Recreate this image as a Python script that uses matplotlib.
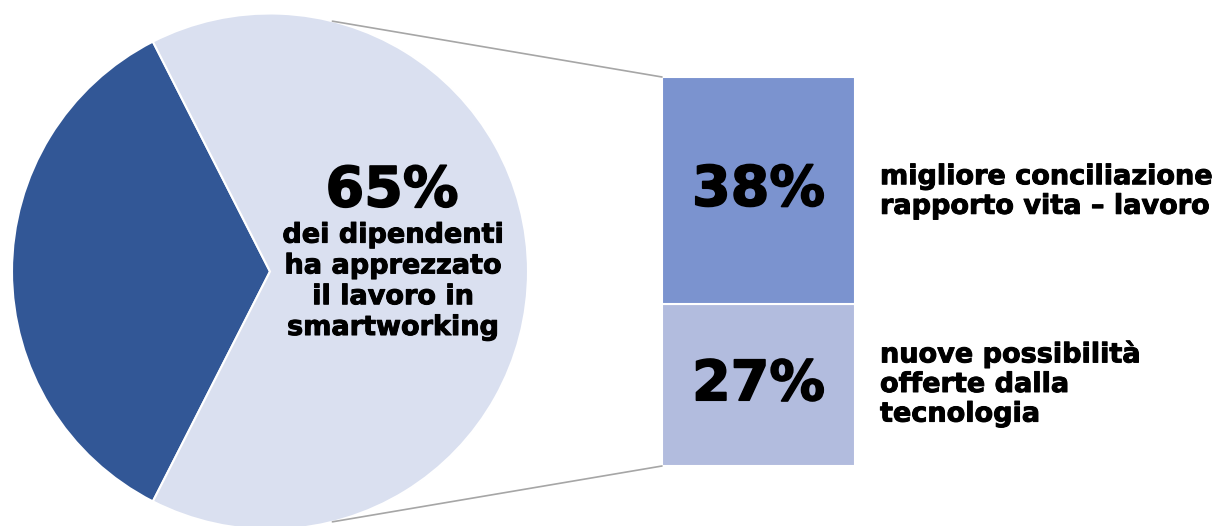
import matplotlib
matplotlib.use("Agg")
import matplotlib.pyplot as plt
from matplotlib.patches import ConnectionPatch
import matplotlib.patheffects as pe
import numpy as np

# Data
pie_labels = ["altro", "ha apprezzato"]
pie_values = [35, 65]
pie_colors = ["#325796", "#DAE0F0"]
bar_labels = ["nuove possibilità\nofferte dalla\ntecnologia",
              "migliore conciliazione\nrapporto vita \u2013 lavoro"]
bar_values = [27, 38]
bar_colors = ["#B2BCDE", "#7B93CF"]
pie_text_main = "65%"
pie_text_sub = "dei dipendenti\nha apprezzato\nil lavoro in\nsmartworking"

W, H = 1221, 526
fig = plt.figure(figsize=(W / 100, H / 100), dpi=100)
plt.rcParams['font.family'] = ['DejaVu Sans']

thick_s = [pe.withStroke(linewidth=0.7, foreground="black")]
thick_l = [pe.withStroke(linewidth=1.2, foreground="black")]

# Pie axes
cx, cy, r = 270, 271.5, 258
ax1 = fig.add_axes([(cx - r) / W, (H - cy - r) / H, 2 * r / W, 2 * r / H])
wedges, _ = ax1.pie(pie_values, colors=pie_colors, startangle=117, radius=1,
                    wedgeprops=dict(edgecolor="white", linewidth=1.5))
for w in wedges:
    w.set_clip_on(False)
ax1.set_xlim(-1, 1)
ax1.set_ylim(-1, 1)
ax1.set_aspect("equal")
ax1.axis("off")

ax1.text(0.473, 0.31, pie_text_main, ha="center", va="center",
         fontsize=40, fontweight="bold", color="black", path_effects=thick_l)
ax1.text(0.477, -0.04, pie_text_sub, ha="center", va="center",
         fontsize=19.5, fontweight="bold", color="black", linespacing=1.24,
         path_effects=thick_s)

# Bar axes
bx0, bx1, by0, by1 = 662, 855, 77, 466
ax2 = fig.add_axes([bx0 / W, (H - by1) / H, (bx1 - bx0) / W, (by1 - by0) / H])
bottoms = np.concatenate([[0], np.cumsum(bar_values)[:-1]])
ax2.bar(0, bar_values, bottom=bottoms, width=1, color=bar_colors,
        edgecolor="white", linewidth=1.5)
total = sum(bar_values)
ax2.set_xlim(-0.5, 0.5)
ax2.set_ylim(0, total)
ax2.axis("off")
for v, b in zip(bar_values, bottoms):
    ax2.text(0, b + v / 2, f"{v}%", ha="center", va="center",
             fontsize=40, fontweight="bold", color="black", path_effects=thick_l)

# Category labels to the right
label_y_px = [384, 192]
for lab, ypx in zip(bar_labels, label_y_px):
    fig.text(880 / W, 1 - ypx / H, lab, ha="left", va="center",
             fontsize=19.5, fontweight="bold", color="black", linespacing=1.18,
             path_effects=thick_s)

# Connector lines
ang = np.deg2rad(76)
for sgn, ytarget in [(1, total), (-1, 0)]:
    con = ConnectionPatch(xyA=(-0.5, ytarget), coordsA=ax2.transData,
                          xyB=(np.cos(ang), sgn * np.sin(ang)), coordsB=ax1.transData,
                          color="#A6A6A6", linewidth=1.2)
    fig.add_artist(con)

fig.savefig("out.png", dpi=100)
